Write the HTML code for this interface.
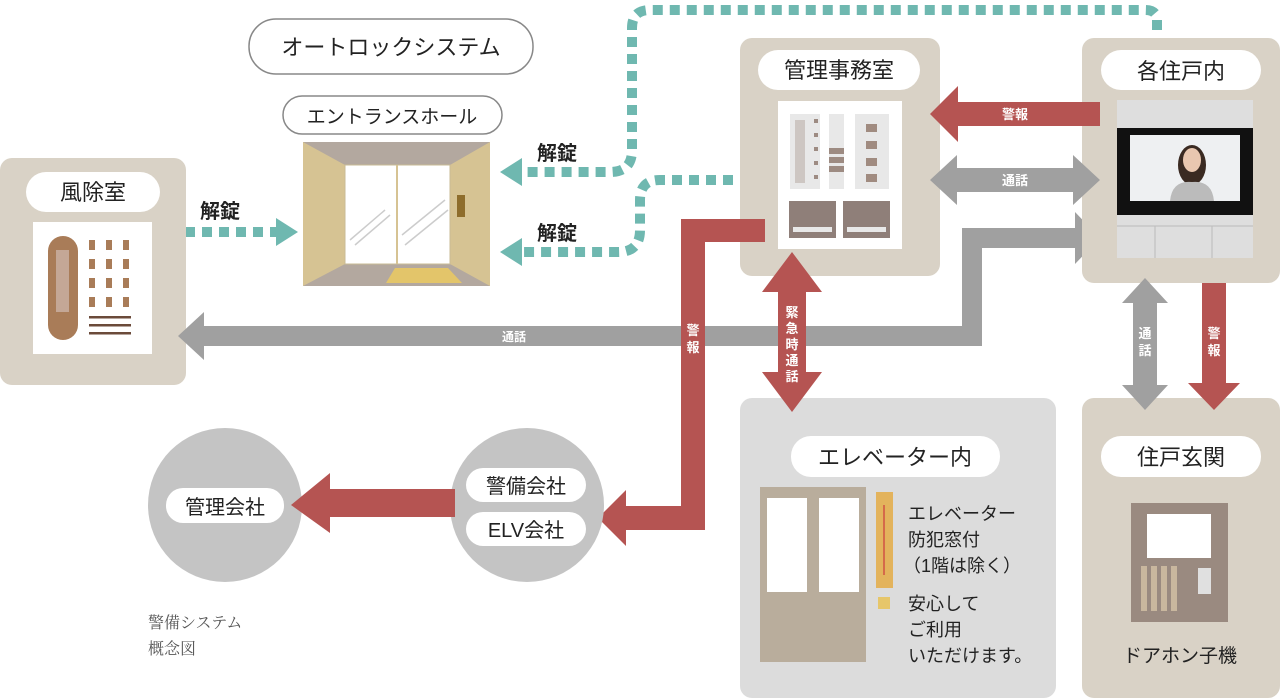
<!DOCTYPE html>
<html><head><meta charset="utf-8"><style>
html,body{margin:0;padding:0;background:#fff;width:1280px;height:698px;overflow:hidden}
svg{display:block}
text{font-family:"Liberation Sans","Noto Sans CJK JP",sans-serif}
.l{font-size:22px;fill:#222;text-anchor:middle}
.w{font-size:13px;fill:#fff;font-weight:bold;text-anchor:middle}
.b{font-size:20px;fill:#222;font-weight:bold;text-anchor:middle}
.t{font-size:18px;fill:#222}
</style></head><body>
<svg width="1280" height="698" viewBox="0 0 1280 698">
<defs>
<marker id="tm" viewBox="0 0 10 10" refX="2" refY="5" markerWidth="3" markerHeight="3.4" orient="auto"><path d="M0,0L10,5L0,10z" fill="#6fb8b0"/></marker>
</defs>
<!-- teal dashed -->
<g fill="none" stroke="#6fb8b0" stroke-width="10" stroke-dasharray="10,7">
<path d="M185,232H276"/>
<path d="M1157,30V20Q1157,10 1145,10H650Q632,10 632,28V150Q632,172 610,172H522"/>
<path d="M733,180H660Q640,180 640,200V230Q640,252 618,252H522"/>
</g>
<polygon points="276,218 298,232 276,246" fill="#6fb8b0"/>
<polygon points="522,158 500,172 522,186" fill="#6fb8b0"/>
<polygon points="522,238 500,252 522,266" fill="#6fb8b0"/>
<text class="b" x="220" y="218">解錠</text>
<text class="b" x="557" y="160">解錠</text>
<text class="b" x="557" y="240">解錠</text>

<!-- pills top -->
<rect x="249" y="19" width="284" height="55" rx="27" fill="#fff" stroke="#888" stroke-width="1.5"/>
<text class="l" x="391" y="55">オートロックシステム</text>
<rect x="283" y="96" width="219" height="38" rx="19" fill="#fff" stroke="#888" stroke-width="1.5"/>
<text x="392" y="123" style="font-size:19px;fill:#222;text-anchor:middle">エントランスホール</text>

<!-- entrance box -->
<rect x="303" y="142" width="187" height="144" fill="#d6c393"/>
<polygon points="303,142 490,142 450,165 345,165" fill="#b3a89f"/>
<polygon points="303,286 490,286 450,264 345,264" fill="#b3a89f"/>
<rect x="345" y="165" width="105" height="99" fill="#fff" stroke="#c9bb95" stroke-width="1"/>
<line x1="397" y1="165" x2="397" y2="264" stroke="#d6c393" stroke-width="2"/>
<polygon points="395,268 448,268 462,283 386,283" fill="#e3c56a"/>
<rect x="457" y="195" width="8" height="22" fill="#8e6d2c"/>
<g stroke="#ccc" stroke-width="1.5"><line x1="350" y1="240" x2="385" y2="210"/><line x1="355" y1="245" x2="390" y2="215"/><line x1="402" y1="235" x2="445" y2="200"/><line x1="405" y1="245" x2="448" y2="210"/></g>

<!-- 風除室 -->
<rect x="0" y="158" width="186" height="227" rx="12" fill="#d9d2c6"/>
<rect x="26" y="172" width="134" height="40" rx="20" fill="#fff"/>
<text class="l" x="93" y="200">風除室</text>
<rect x="33" y="222" width="119" height="132" fill="#fff"/>
<rect x="48" y="236" width="30" height="104" rx="15" fill="#a97c58"/>
<rect x="56" y="250" width="13" height="62" fill="#c4a796"/>
<g fill="#a97c58"><rect x="89" y="240" width="6" height="10"/><rect x="106" y="240" width="6" height="10"/><rect x="123" y="240" width="6" height="10"/>
<rect x="89" y="259" width="6" height="10"/><rect x="106" y="259" width="6" height="10"/><rect x="123" y="259" width="6" height="10"/>
<rect x="89" y="278" width="6" height="10"/><rect x="106" y="278" width="6" height="10"/><rect x="123" y="278" width="6" height="10"/>
<rect x="89" y="297" width="6" height="10"/><rect x="106" y="297" width="6" height="10"/><rect x="123" y="297" width="6" height="10"/></g>
<g fill="#6b4a3a"><rect x="89" y="316" width="42" height="2.5"/><rect x="89" y="324" width="42" height="2.5"/><rect x="89" y="332" width="42" height="2.5"/></g>

<!-- gray long arrow -->
<path d="M178,336L204,312V326H962V228H1075V212L1100,238L1075,264V248H982V346H204V360Z" fill="#a0a0a0"/>
<text class="w" x="514" y="341" style="font-size:12px">通話</text>

<!-- 管理事務室 -->
<rect x="740" y="38" width="200" height="238" rx="12" fill="#d9d2c6"/>
<rect x="758" y="50" width="162" height="40" rx="20" fill="#fff"/>
<text class="l" x="839" y="78">管理事務室</text>
<rect x="778" y="101" width="124" height="148" fill="#fff"/>
<rect x="790" y="114" width="30" height="75" fill="#e8e8e8"/><rect x="795" y="120" width="10" height="63" fill="#cdc6c2"/>
<g fill="#9d8b82"><rect x="814" y="119" width="4" height="4"/><rect x="814" y="133" width="4" height="4"/><rect x="814" y="147" width="4" height="4"/><rect x="814" y="161" width="4" height="4"/><rect x="814" y="175" width="4" height="4"/></g>
<rect x="829" y="114" width="15" height="75" fill="#e8e8e8"/>
<g fill="#9d8b82"><rect x="829" y="148" width="15" height="6"/><rect x="829" y="157" width="15" height="6"/><rect x="829" y="166" width="15" height="6"/></g>
<rect x="855" y="114" width="34" height="75" fill="#e8e8e8"/>
<g fill="#a08b80"><rect x="866" y="124" width="11" height="8"/><rect x="866" y="141" width="11" height="8"/><rect x="866" y="158" width="11" height="8"/><rect x="866" y="174" width="11" height="8"/></g>
<rect x="789" y="201" width="47" height="37" fill="#8f7f79"/><rect x="843" y="201" width="47" height="37" fill="#8f7f79"/>
<rect x="793" y="227" width="39" height="5" fill="#e8e8e8"/><rect x="847" y="227" width="39" height="5" fill="#e8e8e8"/>

<!-- red alarm path -->
<path d="M765,219V242H705V530H626V546L598,518L626,490V506H681V219Z" fill="#b55452"/>
<text class="w" x="693" y="335">警</text><text class="w" x="693" y="352">報</text>

<!-- 各住戸内 -->
<rect x="1082" y="38" width="198" height="245" rx="12" fill="#d9d2c6"/>
<rect x="1101" y="50" width="160" height="40" rx="20" fill="#fff"/>
<text class="l" x="1181" y="79">各住戸内</text>
<rect x="1117" y="100" width="136" height="158" fill="#dedede"/>
<rect x="1117" y="128" width="136" height="87" fill="#111"/>
<rect x="1130" y="135" width="110" height="66" fill="#eef0f2"/>
<ellipse cx="1192" cy="165" rx="14" ry="20" fill="#3a2a22"/>
<ellipse cx="1192" cy="160" rx="9" ry="12" fill="#e9c7b0"/>
<path d="M1170,201Q1172,180 1192,182Q1212,180 1214,201Z" fill="#bbb"/>
<line x1="1117" y1="226" x2="1253" y2="226" stroke="#bbb"/>
<line x1="1155" y1="226" x2="1155" y2="258" stroke="#bbb"/><line x1="1212" y1="226" x2="1212" y2="258" stroke="#bbb"/>

<!-- red warn arrow -->
<path d="M930,114L958,86V102H1100V126H958V142Z" fill="#b55452"/>
<text class="w" x="1015" y="119">警報</text>
<!-- gray double -->
<path d="M930,180L957,155V168H1073V155L1100,180L1073,205V192H957V205Z" fill="#a0a0a0"/>
<text class="w" x="1015" y="185">通話</text>

<!-- エレベーター内 -->
<rect x="740" y="398" width="316" height="300" rx="12" fill="#dcdcdc"/>
<rect x="791" y="436" width="209" height="41" rx="20" fill="#fff"/>
<text class="l" x="895" y="465">エレベーター内</text>
<rect x="760" y="487" width="106" height="175" fill="#b9ad9c"/>
<rect x="767" y="498" width="40" height="94" fill="#fff"/><rect x="819" y="498" width="40" height="94" fill="#fff"/>
<rect x="876" y="492" width="17" height="96" fill="#e3b35c"/>
<rect x="883" y="505" width="2" height="70" fill="#d56a4a"/>
<rect x="878" y="597" width="12" height="12" fill="#e6c66a"/>
<text class="t" x="908" y="520">エレベーター</text>
<text class="t" x="908" y="546">防犯窓付</text>
<text class="t" x="903" y="572">（1階は除く）</text>
<text class="t" x="908" y="610">安心して</text>
<text class="t" x="908" y="636">ご利用</text>
<text class="t" x="908" y="662">いただけます。</text>

<!-- 住戸玄関 -->
<rect x="1082" y="398" width="198" height="300" rx="12" fill="#d9d2c6"/>
<rect x="1101" y="436" width="160" height="41" rx="20" fill="#fff"/>
<text class="l" x="1181" y="465">住戸玄関</text>
<rect x="1131" y="503" width="97" height="119" fill="#9a8a80"/>
<rect x="1147" y="514" width="64" height="44" fill="#fff"/>
<g fill="#c9b79e"><rect x="1141" y="566" width="6" height="45"/><rect x="1151" y="566" width="6" height="45"/><rect x="1161" y="566" width="6" height="45"/><rect x="1171" y="566" width="6" height="45"/></g>
<rect x="1198" y="568" width="13" height="26" fill="#e0e0e0"/>
<text x="1180" y="662" style="font-size:19px;fill:#222;text-anchor:middle">ドアホン子機</text>

<!-- vertical arrows on top -->
<path d="M792,252L822,292H806V372H822L792,412L762,372H778V292H762Z" fill="#b55452"/>
<text class="w" x="792" y="317">緊</text><text class="w" x="792" y="333">急</text><text class="w" x="792" y="349">時</text><text class="w" x="792" y="365">通</text><text class="w" x="792" y="381">話</text>
<path d="M1145,278L1168,303H1157V385H1168L1145,410L1122,385H1133V303H1122Z" fill="#a0a0a0"/>
<text class="w" x="1145" y="338">通</text><text class="w" x="1145" y="355">話</text>
<path d="M1202,283H1226V383H1240L1214,410L1188,383H1202Z" fill="#b55452"/>
<text class="w" x="1214" y="338">警</text><text class="w" x="1214" y="355">報</text>

<!-- circles -->
<circle cx="225" cy="505" r="77" fill="#c4c4c4"/>
<rect x="166" y="488" width="118" height="35" rx="17" fill="#fff"/>
<text class="l" x="225" y="514" style="font-size:20px">管理会社</text>
<circle cx="527" cy="505" r="77" fill="#c4c4c4"/>
<rect x="466" y="468" width="120" height="34" rx="17" fill="#fff"/>
<text class="l" x="526" y="493" style="font-size:20px">警備会社</text>
<rect x="466" y="512" width="120" height="34" rx="17" fill="#fff"/>
<text class="l" x="526" y="537" style="font-size:20px">ELV会社</text>
<path d="M291,505L330,473V489H455V517H330V533Z" fill="#b55452"/>
<text x="148" y="628" style="font-family:'Liberation Serif','Noto Serif CJK SC',serif;font-size:16px;fill:#555">警備システム</text>
<text x="148" y="654" style="font-family:'Liberation Serif','Noto Serif CJK SC',serif;font-size:16px;fill:#555">概念図</text>
</svg>
</body></html>
